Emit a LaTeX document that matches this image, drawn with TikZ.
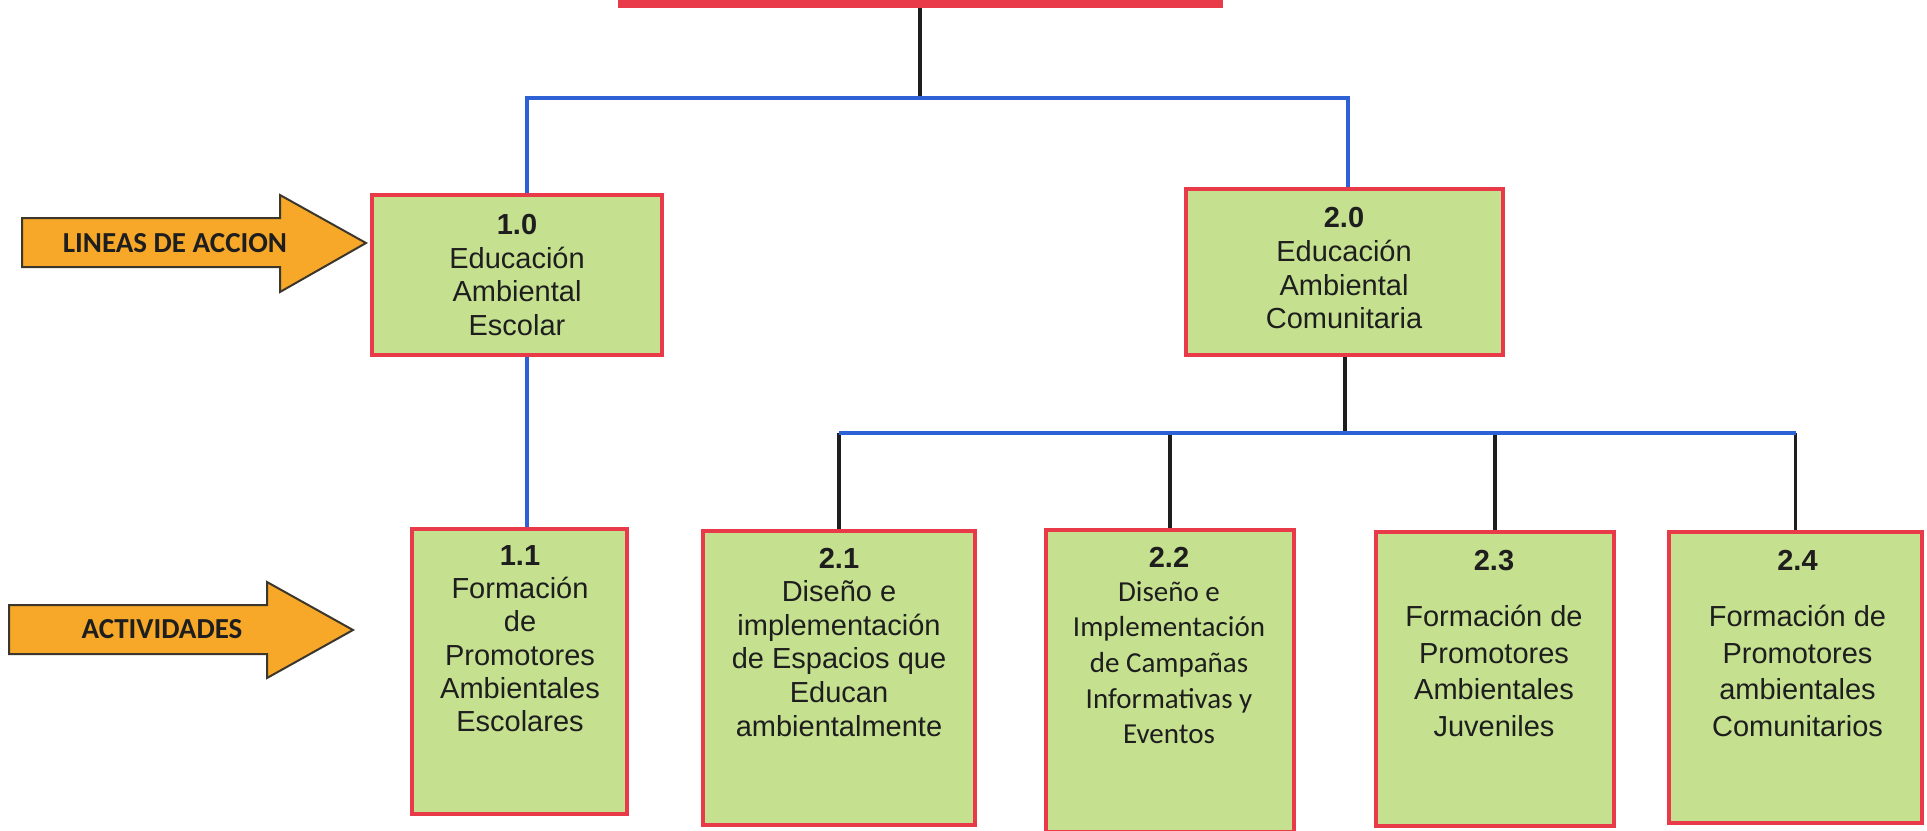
\documentclass[tikz,border=0pt]{standalone}
\usepackage{fontspec}
\setmainfont{Liberation Sans}
\newfontfamily\boxfont{Liberation Sans}
\newfontfamily\calfont{Carlito}
\definecolor{boxgreen}{RGB}{197,224,143}
\definecolor{boxred}{RGB}{232,58,72}
\definecolor{lineblue}{RGB}{46,96,214}
\definecolor{lineblack}{RGB}{30,30,30}
\definecolor{arrorange}{RGB}{247,168,40}
\definecolor{arredge}{RGB}{60,55,45}
\definecolor{txtgray}{RGB}{30,30,30}
\tikzset{
  gbox/.style={draw=boxred, line width=4.5pt, fill=boxgreen, inner sep=0pt},
  btxt/.style={font=\boxfont\fontsize{29}{33.5}\selectfont, align=center, text=txtgray, inner sep=0pt,
    anchor=north},
  blu/.style={draw=lineblue, line width=3.5pt},
  blk/.style={draw=lineblack, line width=3.5pt},
  arrsty/.style={draw=arredge, line width=2pt, fill=arrorange, line join=miter},
  arrtext/.style={font=\calfont\bfseries\fontsize{29}{33}\selectfont, text=txtgray, inner sep=0pt}
}
\begin{document}
\begin{tikzpicture}[x=1pt,y=-1pt]
\useasboundingbox (0,0) rectangle (1927,830);
\fill[white] (0,0) rectangle (1927,830);

% top box (only its lower edge is visible)
\node[draw=boxred, fill=boxred, line width=4pt, minimum width=601pt, minimum height=46pt, inner sep=0pt] (top) at (920.5,-17) {};

% level 1 boxes
\node[gbox, minimum width=290pt, minimum height=160pt] (b10) at (517,275) {};
\node[gbox, minimum width=317pt, minimum height=166pt] (b20) at (1344.5,272) {};
% level 2 boxes
\node[gbox, minimum width=215pt, minimum height=285pt] (b11) at (519.5,671.5) {};
\node[gbox, minimum width=272pt, minimum height=294pt] (b21) at (839,678) {};
\node[gbox, minimum width=248pt, minimum height=302pt] (b22) at (1170,681) {};
\node[gbox, minimum width=238pt, minimum height=294pt] (b23) at (1495,679) {};
\node[gbox, minimum width=253pt, minimum height=291pt] (b24) at (1795.5,677.5) {};

% texts
\node[btxt] (t10) at (517,214.5) {\textbf{1.0}\\Educación\\Ambiental\\Escolar};
\node[btxt, font=\boxfont\fontsize{29}{33.6}\selectfont] (t20) at (1344,207.5) {\textbf{2.0}\\Educación\\Ambiental\\Comunitaria};
\node[btxt, font=\boxfont\fontsize{29}{33.3}\selectfont] (t11) at (520,545.2) {\textbf{1.1}\\Formación\\de\\Promotores\\Ambientales\\Escolares};
\node[btxt, font=\boxfont\fontsize{29}{33.7}\selectfont] (t21) at (839,548.5) {\textbf{2.1}\\[-1.3pt]Diseño e\\implementación\\de Espacios que\\Educan\\ambientalmente};
\node[btxt, font=\calfont\fontsize{29}{35.6}\selectfont] (t22) at (1169,547.5) {{\boxfont\bfseries 2.2}\\[-2.2pt]Diseño e\\Implementación\\de Campañas\\Informativas y\\Eventos};
\node[btxt, font=\boxfont\fontsize{29}{36.7}\selectfont] (t23) at (1494,549.9) {\textbf{2.3}\\[19.3pt]Formación de\\Promotores\\Ambientales\\Juveniles};
\node[btxt, font=\boxfont\fontsize{29}{36.7}\selectfont] (t24) at (1797.5,549.9) {\textbf{2.4}\\[19.3pt]Formación de\\Promotores\\ambientales\\Comunitarios};

% connectors level 0 -> 1
\coordinate (j0) at (920,98);
\coordinate (h1L) at (527,98);
\coordinate (h1R) at (1348,98);
\draw[blk] (top.south -| j0) -- (j0);
\draw[blu] (b10.north -| h1L) -- (h1L) -- (h1R) -- (b20.north -| h1R);
% 1.0 -> 1.1
\draw[blu] (b10.south -| h1L) -- (b11.north -| h1L);
% 2.0 -> 2.x
\coordinate (j2) at (1345,433);
\draw[blk] (b20.south -| j2) -- (j2);
\foreach \b in {b21,b22,b23,b24} {\draw[blk] (\b.north |- j2) -- (\b.north);}
\draw[blu] (b21.north |- j2) -- (b24.north |- j2);

% side arrows
\draw[arrsty] (22,218) -- (280,218) -- (280,195) -- (366,243) -- (280,292) -- (280,267) -- (22,267) -- cycle;
\node[arrtext] (lin) at (175,243) {LINEAS DE ACCION};
\draw[arrsty] (9,605) -- (267,605) -- (267,582) -- (353,630) -- (267,678) -- (267,654) -- (9,654) -- cycle;
\node[arrtext] (act) at (162,629) {ACTIVIDADES};
\end{tikzpicture}
\end{document}
